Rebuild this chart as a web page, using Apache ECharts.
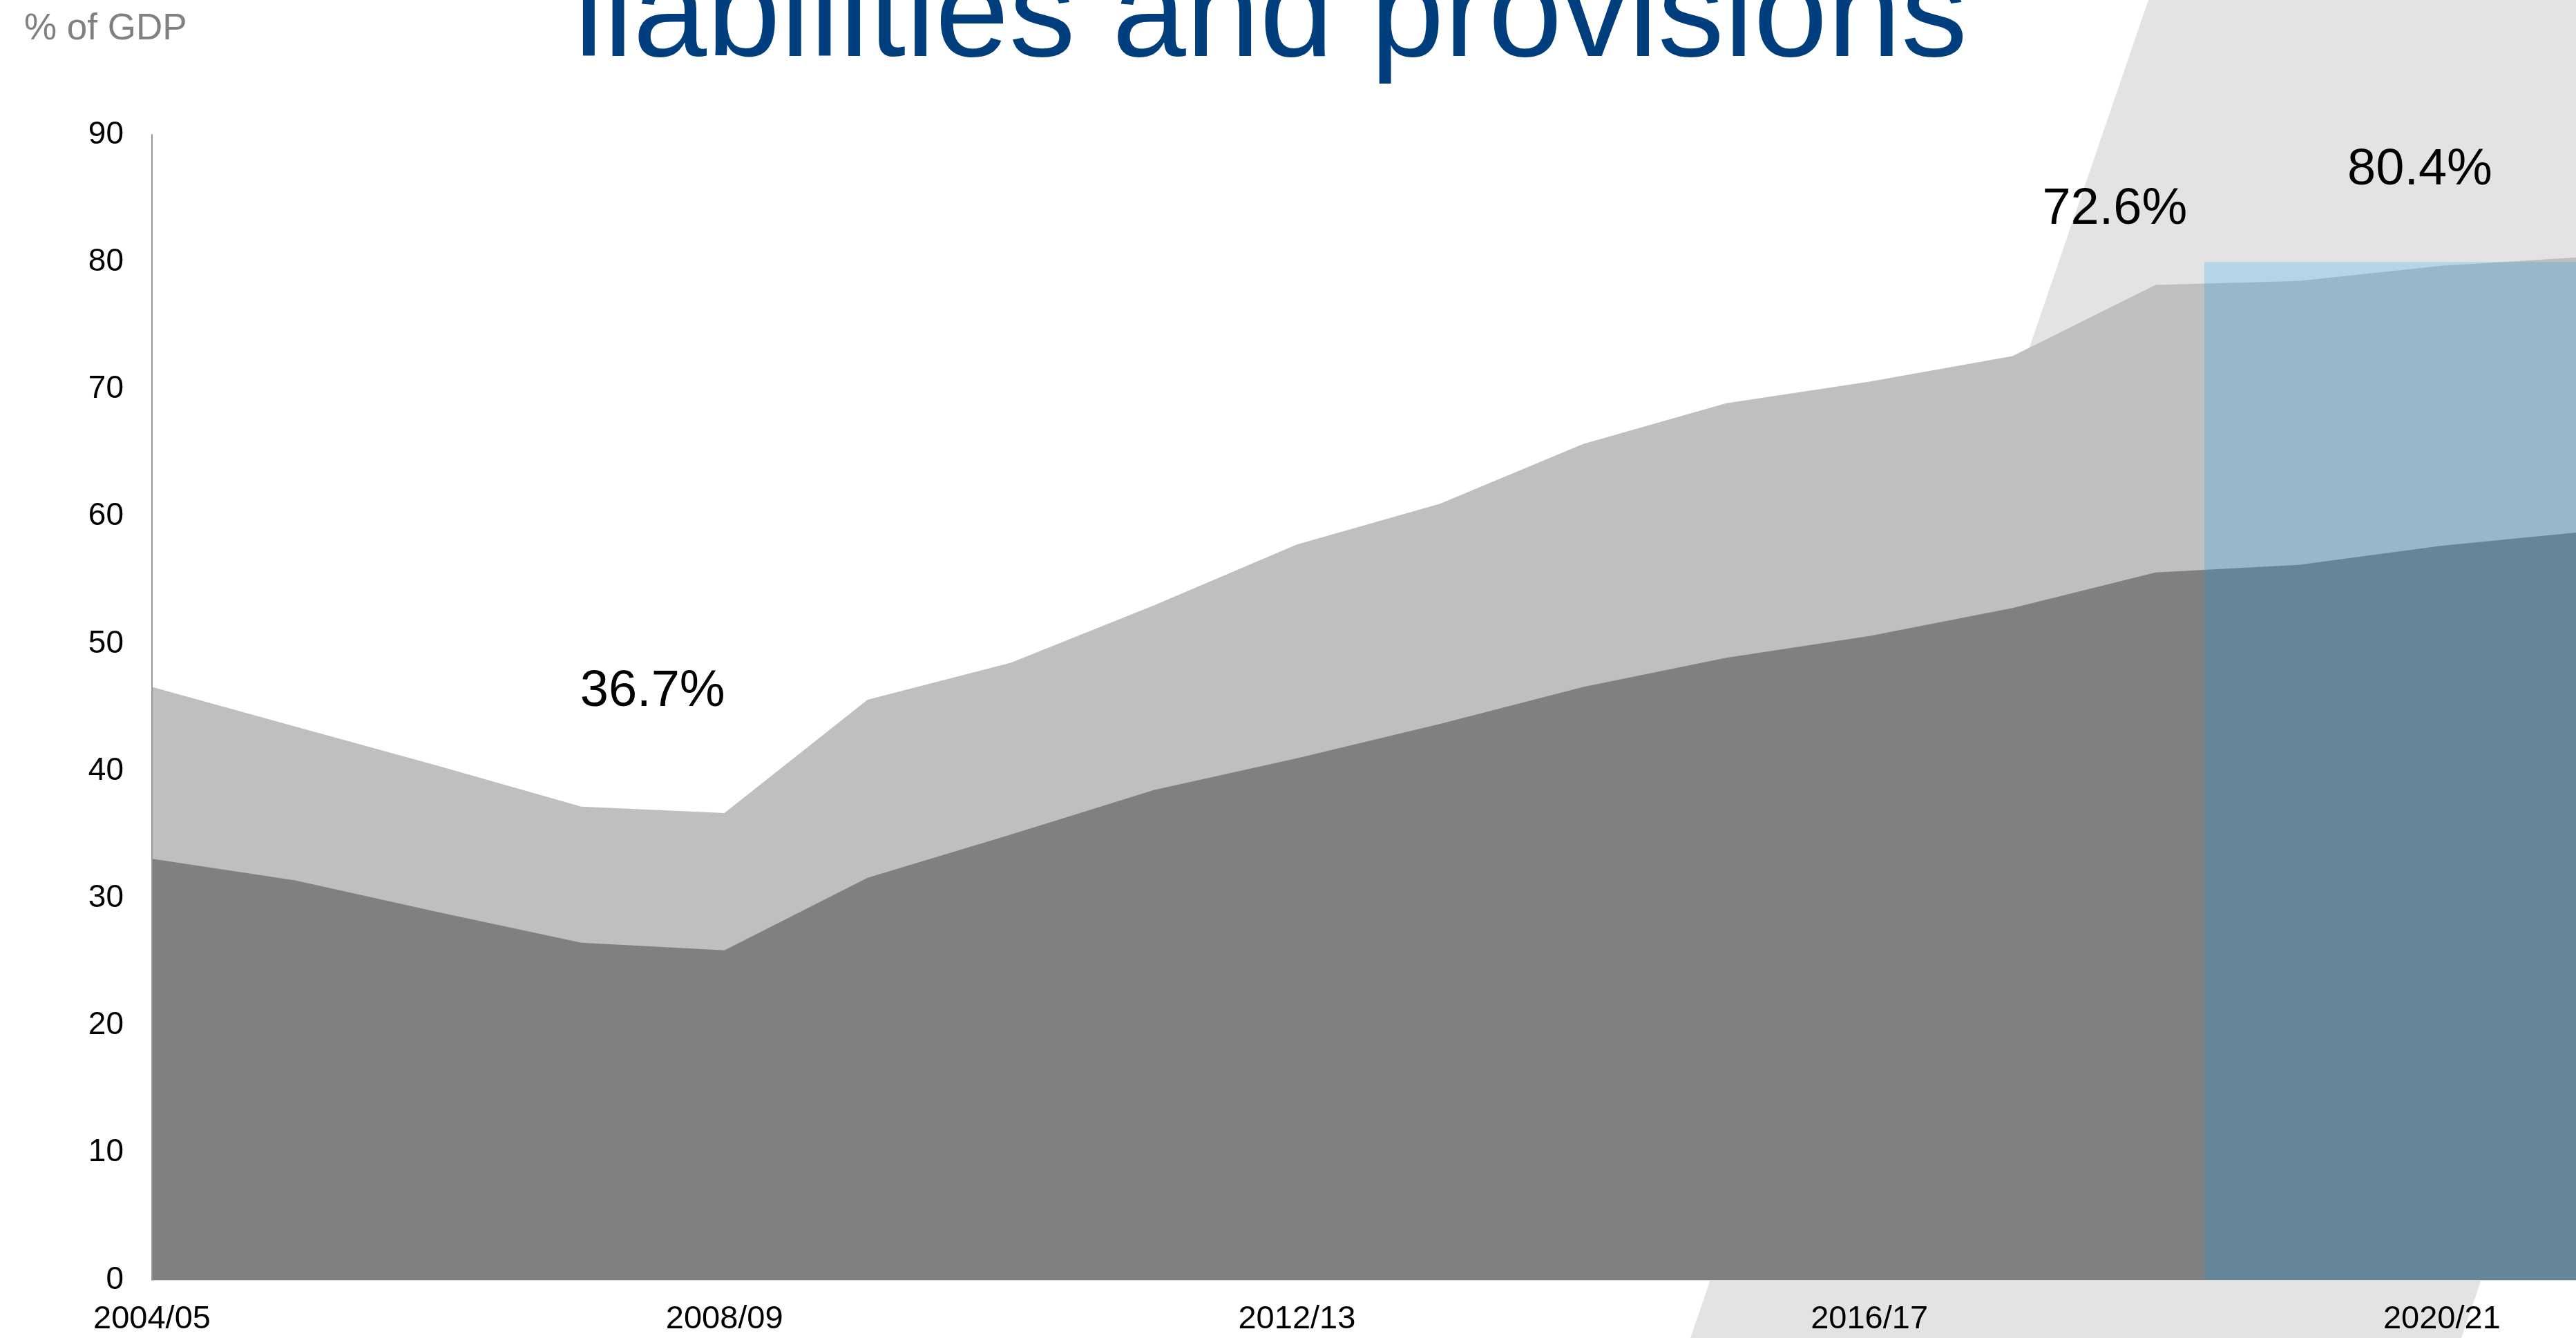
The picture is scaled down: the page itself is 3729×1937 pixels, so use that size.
<!DOCTYPE html>
<html>
<head>
<meta charset="utf-8">
<title>liabilities and provisions</title>
<script src="https://cdn.jsdelivr.net/npm/echarts@6/dist/echarts.min.js"></script>
<style>
  html, body { margin: 0; padding: 0; background: #ffffff; }
  #chart { width: 3729px; height: 1937px; }
</style>
</head>
<body>
<div id="chart"></div>
<script>
// Fiscal years on the horizontal axis
const categories = ['2004/05', '2005/06', '2006/07', '2007/08', '2008/09', '2009/10',
  '2010/11', '2011/12', '2012/13', '2013/14', '2014/15', '2015/16', '2016/17',
  '2017/18', '2018/19', '2019/20', '2020/21', '2021/22'];

// Total liabilities and provisions, % of GDP
const totalLiabilities = [46.6, 43.5, 40.4, 37.2, 36.7, 45.6, 48.5, 53.0, 57.8, 61.0,
  65.7, 68.9, 70.6, 72.6, 78.2, 78.5, 79.7, 80.4];

// Public sector net debt, % of GDP
const netDebt = [33.1, 31.4, 28.9, 26.5, 25.9, 31.6, 35.0, 38.5, 41.0, 43.7,
  46.6, 48.9, 50.6, 52.8, 55.6, 56.2, 57.7, 58.8];

// Years whose total is written on the chart
const labelledYears = ['2008/09', '2017/18', '2021/22'];

// Value axis ticks
const yTicks = { min: 0, max: 90, step: 10 };
// Every fourth year is labelled
const yearLabelStep = 4;

// Shaded recent period (x in years from 2004/05, y in % of GDP)
const shadeFrom = 14.34;
const shadeTo = categories.length - 1;
const shadeTop = 80;

const FONT = "'Liberation Sans', Arial, sans-serif";

const chart = echarts.init(document.getElementById('chart'), null, { renderer: 'canvas' });

const pairs = arr => arr.map((v, i) => [i, v]);

// label offsets for the written totals (pixels from the point)
const labelOffsets = {
  '2008/09': [-104, -175],
  '2017/18': [148, -212],
  '2021/22': [-239, -125]
};

const option = {
  backgroundColor: '#ffffff',
  animation: false,
  graphic: [
    {
      type: 'polygon',
      z: -100,
      silent: true,
      shape: { points: [[3110, 0], [4225, 0], [3563, 1937], [2447, 1937]] },
      style: { fill: '#e3e3e3' }
    },
    {
      type: 'text',
      z: 100,
      x: 831,
      y: 28,
      style: {
        text: 'liabilities and provisions',
        font: '192px ' + FONT,
        fill: '#003e7e',
        align: 'left',
        verticalAlign: 'middle'
      }
    },
    {
      type: 'text',
      z: 100,
      x: 35,
      y: 42,
      style: {
        text: '% of GDP',
        font: '53px ' + FONT,
        fill: '#808080',
        align: 'left',
        verticalAlign: 'middle'
      }
    }
  ],
  grid: {
    left: 220,
    right: -13,
    top: 195,
    bottom: 84,
    containLabel: false,
    outerBoundsMode: 'none'
  },
  xAxis: {
    type: 'value',
    min: 0,
    max: categories.length - 1,
    interval: yearLabelStep,
    splitLine: { show: false },
    axisTick: { show: false },
    axisLine: { show: true, lineStyle: { color: '#d9d9d9', width: 2 } },
    axisLabel: {
      showMaxLabel: false,
      margin: 34,
      fontFamily: FONT,
      fontSize: 47,
      color: '#000000',
      formatter: v => (Number.isInteger(v) ? categories[v] : '')
    }
  },
  yAxis: {
    type: 'value',
    min: yTicks.min,
    max: yTicks.max,
    interval: yTicks.step,
    z: 5,
    splitLine: { show: false },
    axisTick: { show: false },
    axisLine: { show: true, lineStyle: { color: '#999999', width: 2 } },
    axisLabel: {
      margin: 41,
      fontFamily: FONT,
      fontSize: 46,
      color: '#000000'
    }
  },
  series: [
    {
      name: 'Total liabilities',
      type: 'line',
      data: pairs(totalLiabilities),
      showSymbol: false,
      symbol: 'none',
      lineStyle: { width: 0, color: '#bfbfbf' },
      areaStyle: { color: '#bfbfbf', opacity: 1 },
      z: 2,
      markPoint: {
        silent: true,
        z: 20,
        symbol: 'circle',
        symbolSize: 1,
        itemStyle: { color: 'rgba(0,0,0,0)' },
        label: {
          show: true,
          position: 'inside',
          fontFamily: FONT,
          fontSize: 74,
          color: '#000000',
          formatter: p => p.value.toFixed(1) + '%'
        },
        data: labelledYears.map(y => {
          const i = categories.indexOf(y);
          return {
            coord: [i, totalLiabilities[i]],
            value: totalLiabilities[i],
            label: { offset: labelOffsets[y] }
          };
        })
      }
    },
    {
      name: 'Net debt',
      type: 'line',
      data: pairs(netDebt),
      showSymbol: false,
      symbol: 'none',
      lineStyle: { width: 0, color: '#808080' },
      areaStyle: { color: '#808080', opacity: 1 },
      z: 3
    },
    {
      name: 'Recent years',
      type: 'line',
      data: [],
      z: 10,
      markArea: {
        silent: true,
        z: 10,
        itemStyle: { color: 'rgba(0,156,255,0.2)' },
        data: [[{ xAxis: shadeFrom, yAxis: 0 }, { xAxis: shadeTo, yAxis: shadeTop }]]
      }
    }
  ]
};

chart.setOption(option);
</script>
</body>
</html>
